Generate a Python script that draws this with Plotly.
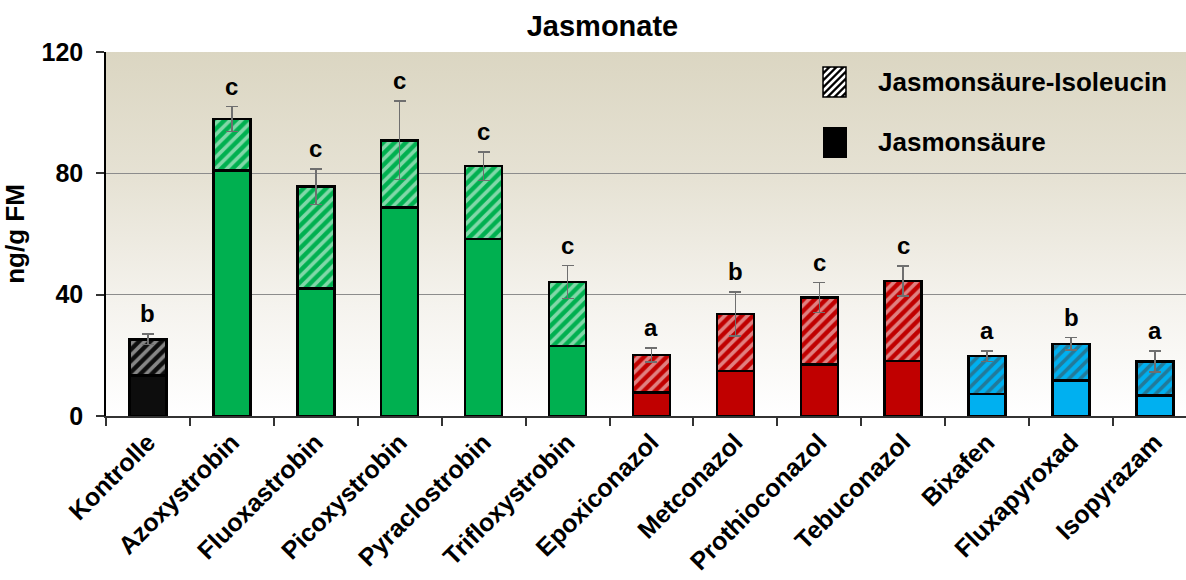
import base64
import plotly.graph_objects as go

categories = ["Kontrolle", "Azoxystrobin", "Fluoxastrobin", "Picoxystrobin", "Pyraclostrobin",
              "Trifloxystrobin", "Epoxiconazol", "Metconazol", "Prothioconazol", "Tebuconazol",
              "Bixafen", "Fluxapyroxad", "Isopyrazam"]
jasmonsaeure = [13.4, 80.9, 42.1, 68.7, 58.3, 23.0, 7.7, 14.9, 16.9, 18.2, 7.3, 11.7, 6.7]
ja_isoleucin = [11.9, 17.0, 33.5, 22.2, 24.1, 21.2, 12.4, 18.7, 22.2, 26.3, 12.4, 12.1, 11.3]
error_total = [1.7, 4.1, 5.9, 12.9, 4.7, 5.4, 2.3, 7.3, 4.9, 4.9, 1.7, 2.0, 3.5]
letters = ["b", "c", "c", "c", "c", "c", "a", "b", "c", "c", "a", "b", "a"]
groups = ["ctrl", "strob", "strob", "strob", "strob", "strob",
          "azol", "azol", "azol", "azol", "sdhi", "sdhi", "sdhi"]
y_ticks = [0, 40, 80, 120]

group_colors = {"ctrl": "#0d0d0d", "strob": "#00B050", "azol": "#C00000", "sdhi": "#00B0F0"}
colors = [group_colors[g] for g in groups]

FONT = "Liberation Sans, Arial, sans-serif"
W, H = 1186, 580
ML, MR, MT, MB = 106, 0, 52, 164
PW, PH = W - ML - MR, H - MT - MB

fig = go.Figure()
fig.add_trace(go.Bar(
    x=categories, y=jasmonsaeure, name="Jasmonsäure",
    marker=dict(color=colors, line=dict(color="black", width=2.5)),
    width=0.44, showlegend=False,
))
fig.add_trace(go.Bar(
    x=categories, y=ja_isoleucin, name="Jasmonsäure-Isoleucin",
    marker=dict(color=colors, line=dict(color="black", width=2.5),
                pattern=dict(shape="/", fillmode="overlay", fgcolor="white",
                             size=8, solidity=0.45)),
    width=0.44, showlegend=False,
    error_y=dict(type="data", array=error_total, color="#6f6f6f", thickness=1.5, width=6),
))

tops = [a + b + e for a, b, e in zip(jasmonsaeure, ja_isoleucin, error_total)]
for c, t, l in zip(categories, tops, letters):
    fig.add_annotation(x=c, y=t, text=l, showarrow=False, yanchor="bottom", yshift=5,
                       font=dict(family=FONT, size=24, color="black", weight="bold"))

# gradient background of the plot area
svg = ('<svg xmlns="http://www.w3.org/2000/svg" width="100" height="100" viewBox="0 0 100 100" '
       'preserveAspectRatio="none"><defs><linearGradient id="g" x1="0" y1="0" x2="0" y2="1">'
       '<stop offset="0" stop-color="#DBD6C2"/><stop offset="0.35" stop-color="#E6E2D4"/>'
       '<stop offset="0.7" stop-color="#F5F3EE"/><stop offset="1" stop-color="#FFFFFF"/>'
       '</linearGradient></defs><rect x="0" y="0" width="100" height="100" fill="url(#g)"/></svg>')
src = "data:image/svg+xml;base64," + base64.b64encode(svg.encode()).decode()
fig.add_layout_image(dict(source=src, xref="paper", yref="paper", x=0, y=1, sizex=1, sizey=1,
                          xanchor="left", yanchor="top", sizing="stretch", layer="below"))


def px(x):
    return (x - ML) / PW


def py(y):
    return (H - MB - y) / PH


# manual legend
sw1 = (823, 67, 846, 97)
sw2 = (823, 127, 847, 158)
for (x0, y0, x1, y1) in (sw1, sw2):
    fig.add_shape(type="rect", xref="paper", yref="paper", x0=px(x0), x1=px(x1), y0=py(y1), y1=py(y0),
                  fillcolor="black", line=dict(width=0))
x0, y0, x1, y1 = sw1
path = ""
c = x0 + y0 + 3
while c < x1 + y1:
    xl = max(x0, c - y1)
    xh = min(x1, c - y0)
    if xl < xh:
        path += f"M{px(xl)},{py(c - xl)}L{px(xh)},{py(c - xh)}"
    c += 7
fig.add_shape(type="path", xref="paper", yref="paper", path=path, line=dict(color="white", width=2.5))
fig.add_shape(type="rect", xref="paper", yref="paper", x0=px(x0), x1=px(x1), y0=py(y1), y1=py(y0),
              line=dict(color="black", width=1.5))
for txt, yc in (("Jasmonsäure-Isoleucin", 82), ("Jasmonsäure", 142)):
    fig.add_annotation(xref="paper", yref="paper", x=px(876), y=py(yc), text=txt, showarrow=False,
                       xanchor="left", yanchor="middle",
                       font=dict(family=FONT, size=26, color="black", weight="bold"))

fig.update_layout(
    width=W, height=H,
    margin=dict(l=ML, r=MR, t=MT, b=MB),
    paper_bgcolor="white", plot_bgcolor="rgba(0,0,0,0)",
    barmode="stack", bargap=0.5,
    showlegend=False,
    title=dict(text="Jasmonate", x=0.508, xanchor="center", y=0.955, yanchor="middle",
               font=dict(family=FONT, size=29, color="black", weight="bold")),
    font=dict(family=FONT, color="black"),
    xaxis=dict(type="category", range=[-0.5, 12.37], tickson="boundaries", ticks="outside",
               ticklen=8, tickwidth=1.5, tickcolor="#333333", showline=True, linecolor="#333333",
               linewidth=1.5, showgrid=False, tickangle=-45, automargin=False,
               tickfont=dict(family=FONT, size=25, color="black", weight="bold")),
    yaxis=dict(range=[0, 120], tickvals=y_ticks, ticks="outside", ticklen=8, tickwidth=1.5,
               tickcolor="#333333", showline=True, linecolor="black", linewidth=1.5,
               showgrid=True, gridcolor="#8c8c8c", gridwidth=1, zeroline=False,
               ticklabelstandoff=8, automargin=False,
               tickfont=dict(family=FONT, size=25, color="black", weight="bold"),
               title=dict(text="ng/g FM", standoff=12,
                          font=dict(family=FONT, size=26, color="black", weight="bold"))),
)

fig.write_html("out.html", config={"displayModeBar": False},
               post_script="document.body.style.margin='0px';")
